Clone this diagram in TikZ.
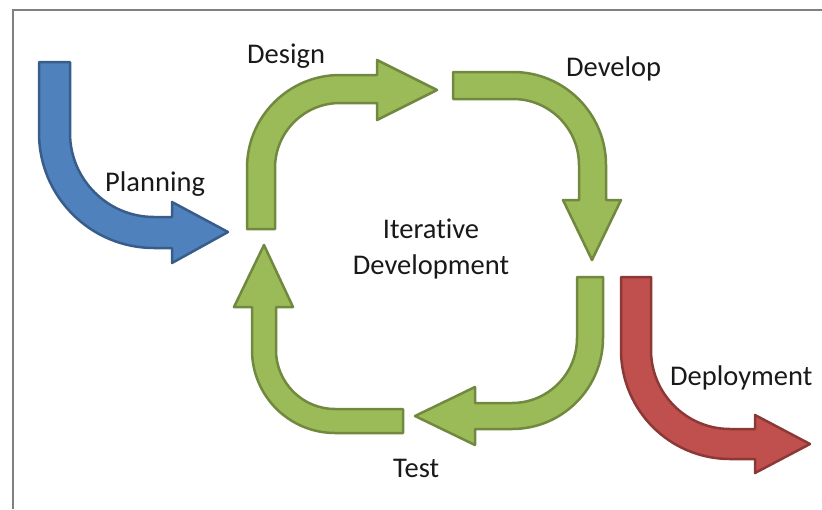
\documentclass[tikz,border=0pt]{standalone}
\usepackage{fontspec}
\setmainfont{Carlito}[Ligatures=NoCommon]
\usepackage{tikz}
\tikzset{
  bluearrow/.style={fill={rgb,255:red,79;green,129;blue,189},draw={rgb,255:red,56;green,93;blue,138},line width=2.5pt,line join=round},
  greenarrow/.style={fill={rgb,255:red,155;green,187;blue,89},draw={rgb,255:red,113;green,137;blue,63},line width=2.5pt,line join=round},
  redarrow/.style={fill={rgb,255:red,192;green,80;blue,77},draw={rgb,255:red,140;green,56;blue,54},line width=2.5pt,line join=round},
  phase/.style={inner sep=0pt,text={rgb,255:red,25;green,25;blue,25},font=\fontsize{28.5}{36}\selectfont}
}

\begin{document}
\begin{tikzpicture}[x=1pt,y=-1pt]
\useasboundingbox (0,0) rectangle (822,509);
\draw[gray,line width=1.6pt] (13,509)--(13,10)--(822,10);
\filldraw[bluearrow] (39,62)--(39,133) arc[start angle=180,end angle=90,radius=115]
  --(172,248)--(172,263)--(228,232)--(172,202)--(172,217)--(154,217)
  arc[start angle=90,end angle=180,radius=84]--(70,62)--cycle;
\filldraw[greenarrow] (247,229)--(247,168) arc[start angle=180,end angle=270,radius=93]
  --(377,75)--(377,60)--(437,90)--(377,120)--(377,103)--(340,103)
  arc[start angle=270,end angle=180,radius=65]--(275,229)--cycle;
\filldraw[greenarrow] (453,72)--(513,72) arc[start angle=270,end angle=360,radius=93]
  --(606,200)--(621,200)--(592,260)--(563,200)--(579,200)--(579,165)
  arc[start angle=0,end angle=-90,radius=66]--(453,99)--cycle;
\filldraw[greenarrow] (577,277)--(603,277)--(603,338) arc[start angle=0,end angle=90,radius=91]
  --(475,429)--(475,445)--(415,416)--(475,387)--(475,403)--(512,403)
  arc[start angle=90,end angle=0,radius=65]--cycle;
\filldraw[greenarrow] (403,433)--(335,433) arc[start angle=90,end angle=180,radius=83]
  --(252,307)--(234,307)--(264,245)--(293,307)--(276,307)--(276,350)
  arc[start angle=180,end angle=90,radius=59]--(403,409)--cycle;
\filldraw[redarrow] (621,277)--(621,350) arc[start angle=180,end angle=90,radius=109]
  --(755,459)--(755,473)--(810,444)--(755,415)--(755,429)--(730,429)
  arc[start angle=90,end angle=180,radius=79]--(651,277)--cycle;
\node[phase,anchor=base west] (plan) at (105,191) {Planning};
\node[phase,anchor=base west] (design) at (247,63) {Design};
\node[phase,anchor=base west] (develop) at (566,76) {Develop};
\node[phase,anchor=base west] (test) at (393,477) {Test};
\node[phase,anchor=base west] (deploy) at (670,385) {Deployment};
\node[phase,anchor=base,align=center] (iter) at (431,274) {Iterative\\Development};
\end{tikzpicture}
\end{document}
